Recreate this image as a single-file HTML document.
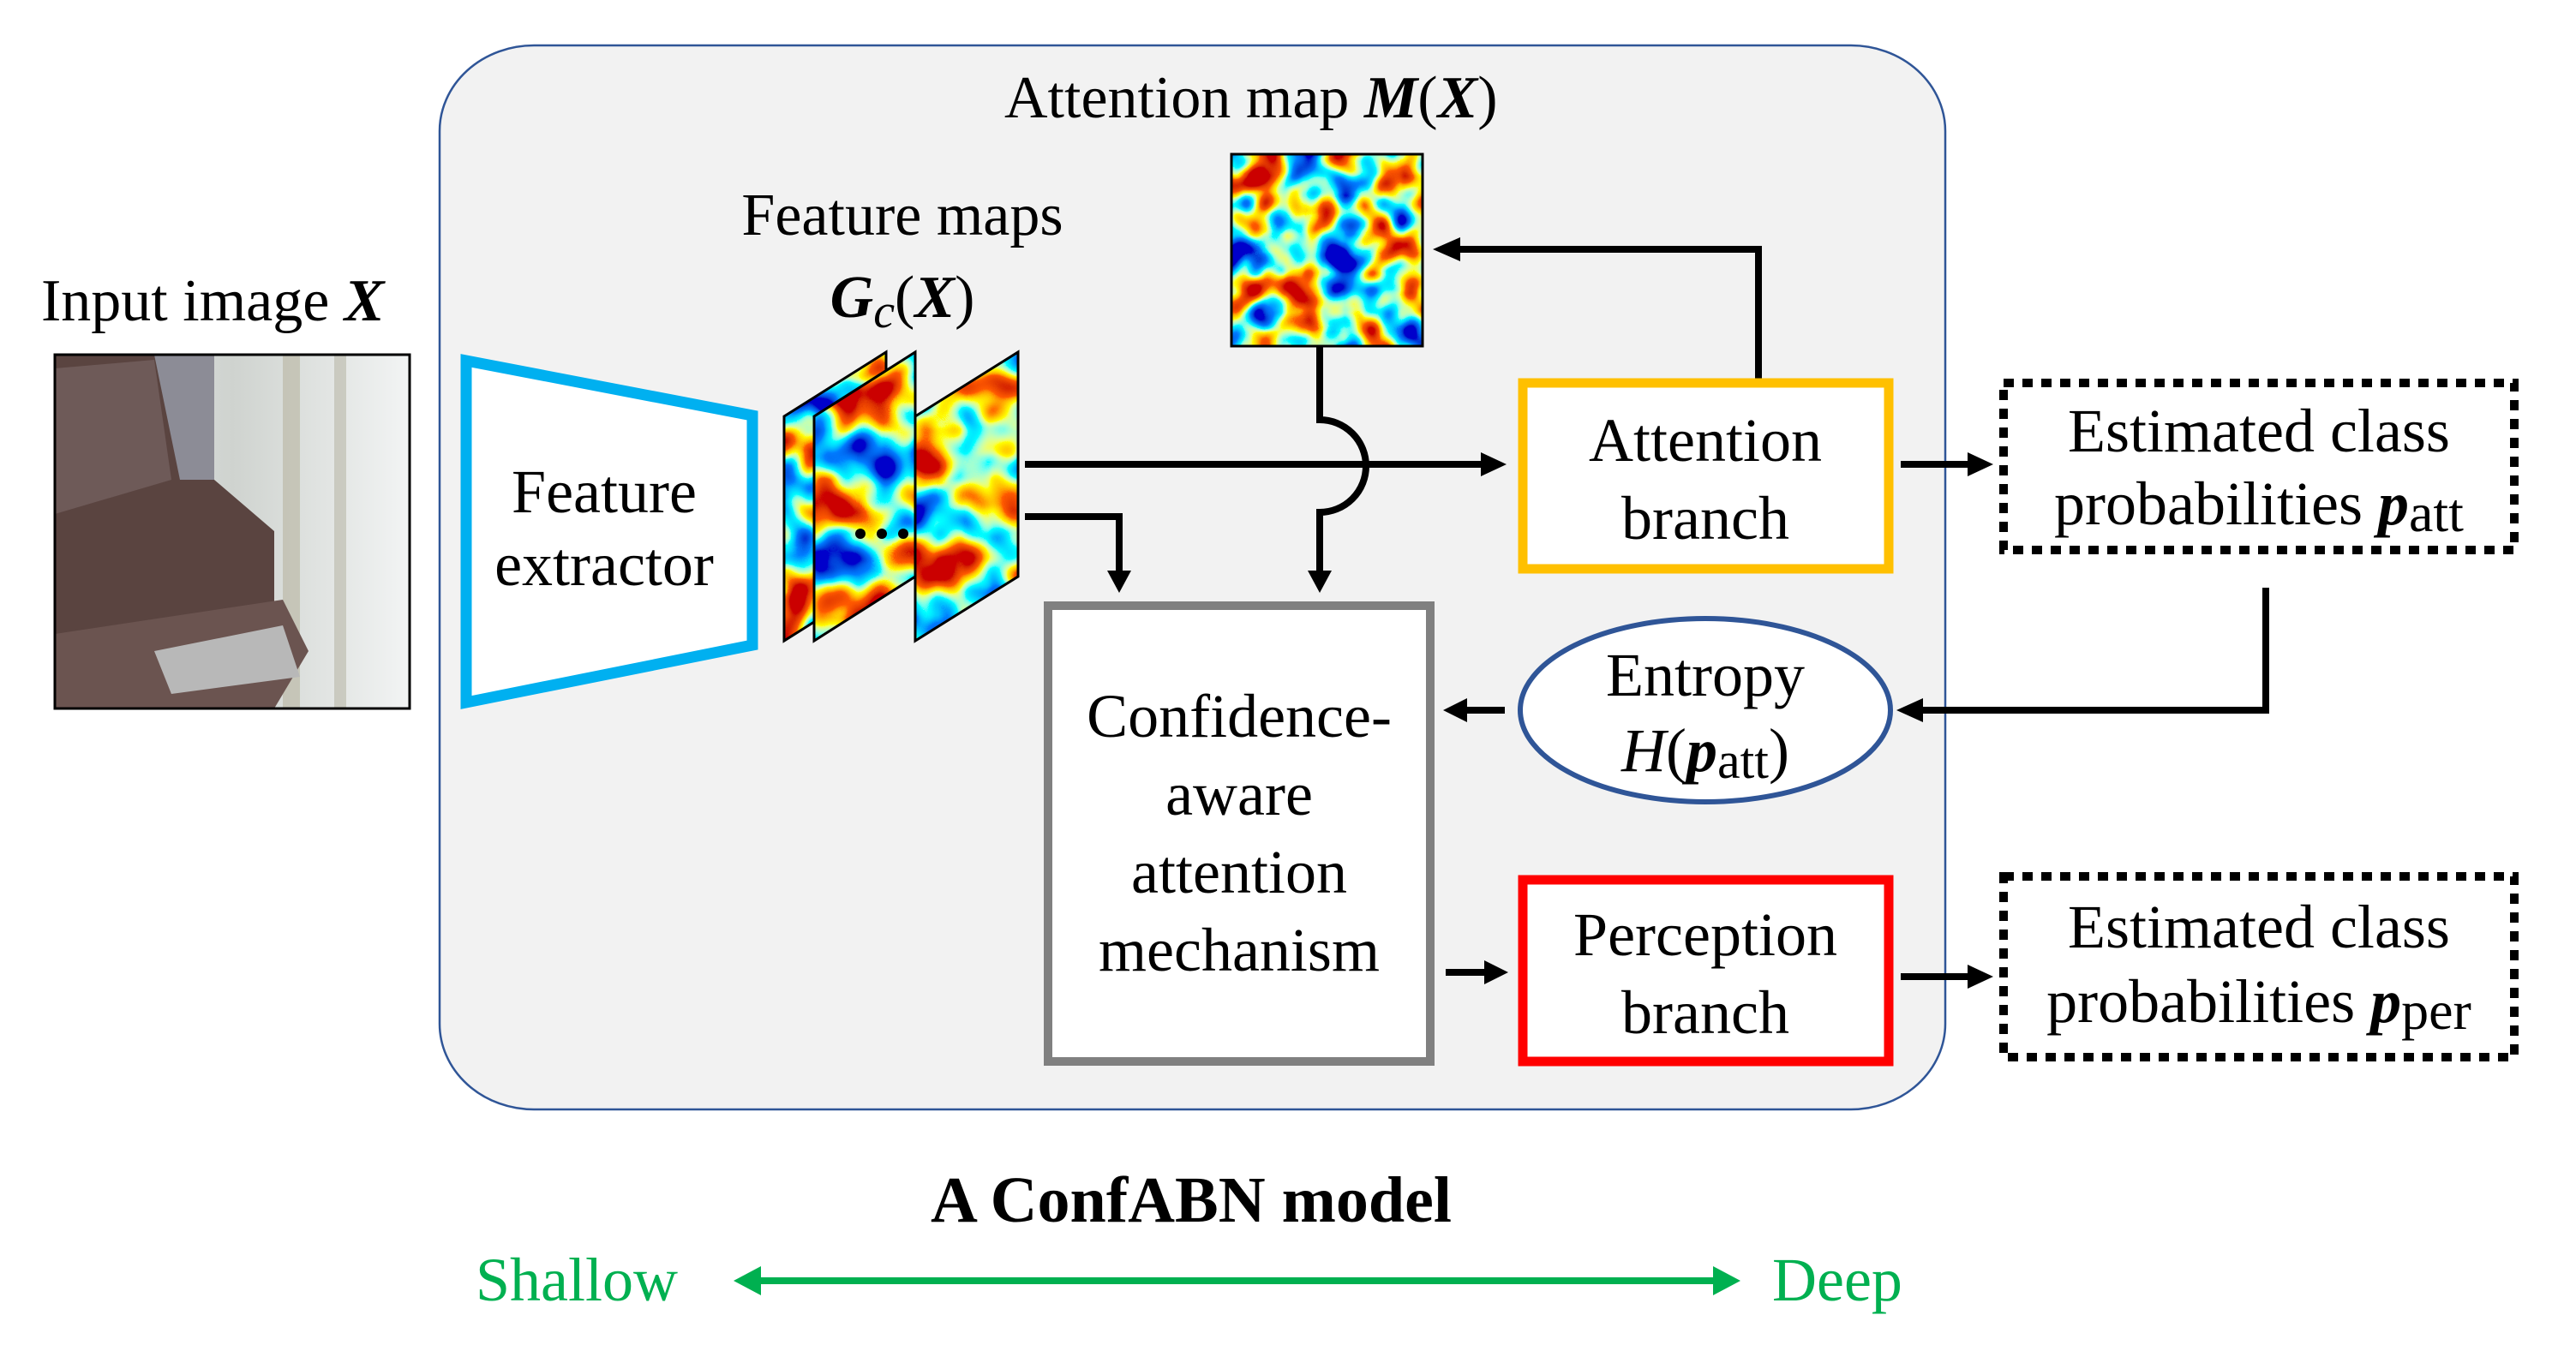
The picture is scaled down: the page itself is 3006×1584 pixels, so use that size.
<!DOCTYPE html>
<html><head><meta charset="utf-8"><style>
html,body{margin:0;padding:0;background:#fff;}
svg{display:block;}
text{font-family:"Liberation Serif",serif;}
</style></head><body>
<svg width="3006" height="1584" viewBox="0 0 3006 1584" xmlns="http://www.w3.org/2000/svg">
<defs>
<filter id="jet1" x="0" y="0" width="100%" height="100%">
<feTurbulence type="fractalNoise" baseFrequency="0.018" numOctaves="2" seed="3"/>
<feColorMatrix type="matrix" values="2.2 0 0 0 -0.6  2.2 0 0 0 -0.6  2.2 0 0 0 -0.6  0 0 0 0 1"/>
<feComponentTransfer>
<feFuncR type="table" tableValues="0 0 0 1 1 0.6"/>
<feFuncG type="table" tableValues="0 0.2 1 1 0.1 0"/>
<feFuncB type="table" tableValues="0.6 1 1 0 0 0"/>
</feComponentTransfer>
</filter>
<filter id="jet2" x="0" y="0" width="100%" height="100%">
<feTurbulence type="fractalNoise" baseFrequency="0.016" numOctaves="2" seed="11"/>
<feColorMatrix type="matrix" values="2.2 0 0 0 -0.6  2.2 0 0 0 -0.6  2.2 0 0 0 -0.6  0 0 0 0 1"/>
<feComponentTransfer>
<feFuncR type="table" tableValues="0 0 0 1 1 0.6"/>
<feFuncG type="table" tableValues="0 0.2 1 1 0.1 0"/>
<feFuncB type="table" tableValues="0.6 1 1 0 0 0"/>
</feComponentTransfer>
</filter>
<filter id="jet3" x="0" y="0" width="100%" height="100%">
<feTurbulence type="fractalNoise" baseFrequency="0.016" numOctaves="2" seed="27"/>
<feColorMatrix type="matrix" values="2.2 0 0 0 -0.6  2.2 0 0 0 -0.6  2.2 0 0 0 -0.6  0 0 0 0 1"/>
<feComponentTransfer>
<feFuncR type="table" tableValues="0 0 0 1 1 0.6"/>
<feFuncG type="table" tableValues="0 0.2 1 1 0.1 0"/>
<feFuncB type="table" tableValues="0.6 1 1 0 0 0"/>
</feComponentTransfer>
</filter>
<filter id="jet4" x="0" y="0" width="100%" height="100%">
<feTurbulence type="fractalNoise" baseFrequency="0.022" numOctaves="2" seed="5"/>
<feColorMatrix type="matrix" values="2.2 0 0 0 -0.6  2.2 0 0 0 -0.6  2.2 0 0 0 -0.6  0 0 0 0 1"/>
<feComponentTransfer>
<feFuncR type="table" tableValues="0 0 0 1 1 0.6"/>
<feFuncG type="table" tableValues="0 0.2 1 1 0.1 0"/>
<feFuncB type="table" tableValues="0.6 1 1 0 0 0"/>
</feComponentTransfer>
</filter>
<clipPath id="p1"><polygon points="915,486 1034,411 1034,673 915,748"/></clipPath>
<clipPath id="p2"><polygon points="950,486 1068,411 1068,673 950,748"/></clipPath>
<clipPath id="p3"><polygon points="1068,486 1188,411 1188,673 1068,748"/></clipPath>
<linearGradient id="wall" x1="0" y1="0" x2="1" y2="0">
<stop offset="0" stop-color="#e8ecef"/><stop offset="0.5" stop-color="#cfd3cf"/><stop offset="1" stop-color="#f2f4f4"/>
</linearGradient>
</defs>

<rect x="513" y="53" width="1757" height="1242" rx="110" ry="100" fill="#f2f2f2" stroke="#2f5597" stroke-width="2.5"/>

<text x="48" y="374" font-size="70">Input image <tspan font-weight="bold" font-style="italic">X</tspan></text>
<g>
<rect x="64" y="414" width="414" height="413" fill="url(#wall)"/>
<rect x="330" y="414" width="20" height="413" fill="#b8b4a0" opacity="0.6"/>
<rect x="390" y="414" width="14" height="413" fill="#b0ad9c" opacity="0.5"/>
<polygon points="64,414 250,414 250,560 320,620 320,720 250,760 64,780" fill="#5a4440"/>
<polygon points="180,414 250,414 250,560 210,560" fill="#8c8c96"/>
<polygon points="64,430 180,420 200,560 64,600" fill="#6e5a58"/>
<polygon points="64,740 330,700 360,760 320,827 64,827" fill="#6b5450"/>
<polygon points="180,760 330,730 350,790 200,810" fill="#b8b8b8"/>
<rect x="64" y="414" width="414" height="413" fill="none" stroke="#000" stroke-width="3"/>
</g>

<polygon points="544,421 878,485 878,753 544,820" fill="#fff" stroke="#00b0f0" stroke-width="13" stroke-linejoin="miter"/>
<text x="705" y="598" font-size="72" text-anchor="middle">Feature</text>
<text x="705" y="683" font-size="72" text-anchor="middle">extractor</text>

<text x="1053" y="274" font-size="70" text-anchor="middle">Feature maps</text>
<text x="1053" y="370" font-size="70" text-anchor="middle"><tspan font-weight="bold" font-style="italic">G</tspan><tspan font-style="italic" font-size="56" dy="12">c</tspan><tspan dy="-12">(</tspan><tspan font-weight="bold" font-style="italic">X</tspan>)</text>
<g clip-path="url(#p1)"><rect x="900" y="400" width="150" height="360" filter="url(#jet1)"/></g>
<polygon points="915,486 1034,411 1034,673 915,748" fill="none" stroke="#000" stroke-width="3"/>
<g clip-path="url(#p2)"><rect x="940" y="400" width="140" height="360" filter="url(#jet2)"/></g>
<polygon points="950,486 1068,411 1068,673 950,748" fill="none" stroke="#000" stroke-width="3"/>
<g clip-path="url(#p3)"><rect x="1060" y="400" width="140" height="360" filter="url(#jet3)"/></g>
<polygon points="1068,486 1188,411 1188,673 1068,748" fill="none" stroke="#000" stroke-width="3"/>
<circle cx="1004" cy="623" r="6" fill="#000"/><circle cx="1029" cy="623" r="6" fill="#000"/><circle cx="1054" cy="623" r="6" fill="#000"/>

<text x="1172" y="137" font-size="70">Attention map <tspan font-weight="bold" font-style="italic">M</tspan>(<tspan font-weight="bold" font-style="italic">X</tspan>)</text>
<rect x="1437" y="180" width="223" height="224" filter="url(#jet4)"/>
<rect x="1437" y="180" width="223" height="224" fill="none" stroke="#000" stroke-width="3"/>

<g stroke="#000" stroke-width="8" fill="none">
<line x1="1196" y1="542" x2="1730" y2="542"/>
<polyline points="1196,603 1306,603 1306,670"/>
<path d="M1540,404 L1540,490 A54,54 0 0 1 1540,598 L1540,670"/>
<polyline points="2052,442 2052,291 1700,291"/>
<line x1="2218" y1="542" x2="2300" y2="542"/>
<polyline points="2644,686 2644,829 2240,829"/>
<line x1="1756" y1="829" x2="1708" y2="829"/>
<line x1="1687" y1="1135" x2="1735" y2="1135"/>
<line x1="2218" y1="1140" x2="2300" y2="1140"/>
</g>
<g fill="#000">
<polygon points="1758,542 1728,528 1728,556"/>
<polygon points="1306,692 1292,666 1320,666"/>
<polygon points="1540,692 1526,666 1554,666"/>
<polygon points="1672,291 1704,277 1704,305"/>
<polygon points="2326,542 2296,528 2296,556"/>
<polygon points="2213,829 2244,815 2244,843"/>
<polygon points="1684,829 1712,815 1712,843"/>
<polygon points="1760,1135 1732,1121 1732,1149"/>
<polygon points="2326,1140 2296,1126 2296,1154"/>
</g>

<rect x="1223" y="707" width="446" height="532" fill="#fff" stroke="#808080" stroke-width="10"/>
<text x="1446" y="860" font-size="72" text-anchor="middle">Confidence-</text>
<text x="1446" y="951" font-size="72" text-anchor="middle">aware</text>
<text x="1446" y="1042" font-size="72" text-anchor="middle">attention</text>
<text x="1446" y="1133" font-size="72" text-anchor="middle">mechanism</text>

<rect x="1777" y="447" width="427" height="217" fill="#fff" stroke="#ffc000" stroke-width="11"/>
<text x="1990" y="538" font-size="72" text-anchor="middle">Attention</text>
<text x="1990" y="629" font-size="72" text-anchor="middle">branch</text>

<ellipse cx="1990" cy="829" rx="216" ry="107" fill="#fff" stroke="#2f5597" stroke-width="6"/>
<text x="1990" y="812" font-size="72" text-anchor="middle">Entropy</text>
<text x="1990" y="900" font-size="72" text-anchor="middle"><tspan font-style="italic">H</tspan>(<tspan font-weight="bold" font-style="italic">p</tspan><tspan font-size="60" dy="8">att</tspan><tspan dy="-8">)</tspan></text>

<rect x="1777" y="1027" width="427" height="212" fill="#fff" stroke="#ff0000" stroke-width="11"/>
<text x="1990" y="1115" font-size="72" text-anchor="middle">Perception</text>
<text x="1990" y="1206" font-size="72" text-anchor="middle">branch</text>

<rect x="2338" y="447" width="596" height="195" fill="#fff" stroke="#000" stroke-width="10" stroke-dasharray="12,10"/>
<text x="2636" y="527" font-size="72" text-anchor="middle">Estimated class</text>
<text x="2636" y="612" font-size="72" text-anchor="middle">probabilities <tspan font-weight="bold" font-style="italic">p</tspan><tspan font-size="64" dy="8">att</tspan></text>
<rect x="2338" y="1023" width="596" height="211" fill="#fff" stroke="#000" stroke-width="10" stroke-dasharray="12,10"/>
<text x="2636" y="1106" font-size="72" text-anchor="middle">Estimated class</text>
<text x="2636" y="1193" font-size="72" text-anchor="middle">probabilities <tspan font-weight="bold" font-style="italic">p</tspan><tspan font-size="64" dy="8">per</tspan></text>

<text x="1390" y="1426" font-size="76" font-weight="bold" text-anchor="middle">A ConfABN model</text>
<text x="555" y="1518" font-size="72" fill="#00b050">Shallow</text>
<text x="2068" y="1518" font-size="72" fill="#00b050">Deep</text>
<line x1="880" y1="1495" x2="2010" y2="1495" stroke="#00b050" stroke-width="8"/>
<polygon points="856,1495 888,1478 888,1512" fill="#00b050"/>
<polygon points="2031,1495 1999,1478 1999,1512" fill="#00b050"/>
</svg>
</body></html>
